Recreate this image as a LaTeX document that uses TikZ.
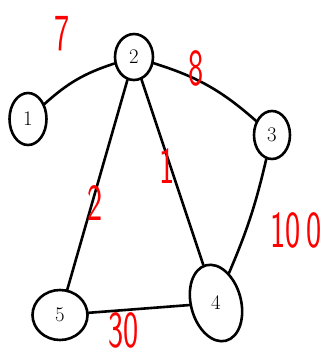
\documentclass[tikz,border=0pt]{standalone}
\usepackage{tikz}
\usepackage{graphicx}
\usetikzlibrary{shapes.geometric}

% narrow hand-written looking weights
\newcommand{\wnum}[1]{\scalebox{0.62}[1]{#1}}

\begin{document}
\begin{tikzpicture}[x=1pt, y=-1pt, every node/.style={font=\huge},
	vert/.style={draw, ellipse, line width=2.6pt, inner sep=0pt},
	wt/.style={text=red, font=\sffamily\fontsize{52}{52}\selectfont, inner sep=0pt},
	link/.style={line width=2.6pt, line cap=round}]
	\useasboundingbox (0,0) rectangle (330,360);
	% vertices
	\node[vert, minimum width=38pt, minimum height=46pt] (v2) at (134,57) {2};
	\node[vert, minimum width=37pt, minimum height=52pt] (v1) at (28,119) {1};
	\node[vert, minimum width=36pt, minimum height=48pt] (v3) at (272,135) {3};
	\node[vert, minimum width=78pt, minimum height=50pt, rotate=-75] (v4) at (216,303) {\rotatebox{75}{4}};
	\node[vert, minimum width=55pt, minimum height=50pt] (v5) at (60,315) {5};
	% edges
	\draw[link] (v2) to[bend right=12] (v1);
	\draw[link] (v2) to[bend left=12] (v3);
	\draw[link] (v2) -- (v5);
	\draw[link] (v2) -- (v4);
	\draw[link] (v3) to[bend left=5] (v4);
	\draw[link] (v5) -- (v4);
	% weights
	\node[wt] (w21) at (62,34) {\wnum{7}};
	\node[wt] (w23) at (196,68) {\wnum{8}};
	\node[wt] (w24) at (167,166) {\wnum{1}};
	\node[wt] (w25) at (95,203) {\wnum{2}};
	\node[wt] (w34) at (296,230) {\wnum{10\hspace{8pt}0}};
	\node[wt] (w54) at (124,330) {\wnum{30}};
\end{tikzpicture}
\end{document}
